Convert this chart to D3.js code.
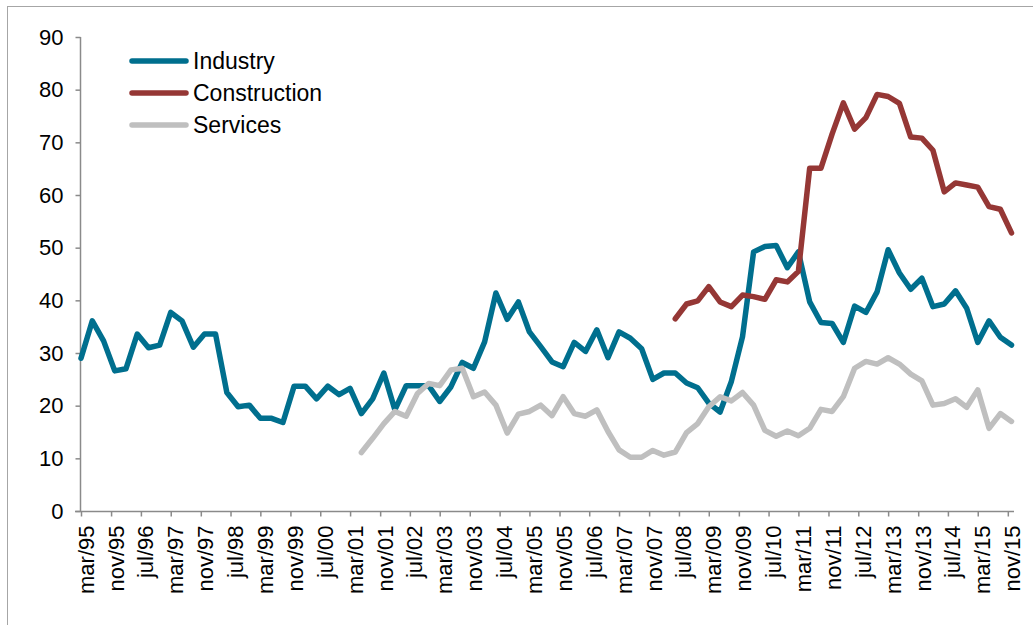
<!DOCTYPE html>
<html>
<head>
<meta charset="utf-8">
<script src="https://cdn.jsdelivr.net/npm/d3@7"></script>
<style>
  html, body { margin: 0; padding: 0; background: #fff; }
  svg { display: block; font-family: "Liberation Sans", Arial, sans-serif; }
</style>
</head>
<body>
<svg id="chart" width="1033" height="625"></svg>
<script>
// Quarterly series, mar/95 .. dec/15
const firstQuarter = "1995-03";
const lastQuarter = "2015-12";

const industry = [
  29.0, 36.1, 32.3, 26.6, 27.0, 33.6, 31.0, 31.5, 37.7, 36.1,
  31.1, 33.6, 33.6, 22.5, 19.8, 20.1, 17.6, 17.6, 16.8, 23.7,
  23.7, 21.3, 23.7, 22.1, 23.3, 18.5, 21.3, 26.2, 19.2, 23.8,
  23.8, 23.8, 20.8, 23.6, 28.2, 27.1, 32.1, 41.4, 36.4, 39.7,
  34.0, 31.2, 28.3, 27.4, 32.0, 30.3, 34.4, 29.1, 34.0, 32.8,
  30.8, 25.0, 26.2, 26.2, 24.3, 23.4, 20.5, 18.8, 24.6, 33.1,
  49.2, 50.2, 50.4, 46.2, 49.2, 39.7, 35.8, 35.6, 32.0, 38.9,
  37.7, 41.6, 49.6, 45.2, 42.1, 44.2, 38.8, 39.3, 41.8, 38.5,
  32.0, 36.1, 33.0, 31.5
];

// Construction starts in jun/08
const constructionStart = "2008-06";
const construction = [
  36.5, 39.3, 39.9, 42.6, 39.7, 38.8, 41.0, 40.7, 40.2, 43.9,
  43.5, 45.5, 65.1, 65.1, 71.6, 77.5, 72.5, 74.7, 79.1, 78.7,
  77.4, 71.0, 70.8, 68.5, 60.6, 62.3, 61.9, 61.5, 57.8, 57.3,
  52.8
];

// Services starts in jun/01
const servicesStart = "2001-06";
const services = [
  11.1, 13.8, 16.6, 18.9, 18.0, 22.3, 24.2, 23.8, 26.8, 27.1,
  21.7, 22.6, 20.1, 14.8, 18.4, 18.9, 20.1, 18.1, 21.7, 18.5,
  18.0, 19.2, 15.1, 11.6, 10.2, 10.2, 11.5, 10.6, 11.2, 14.9,
  16.6, 19.8, 21.7, 20.9, 22.5, 20.1, 15.3, 14.2, 15.2, 14.3,
  15.7, 19.3, 18.9, 21.7, 27.1, 28.4, 27.9, 29.1, 27.9, 26.0,
  24.7, 20.1, 20.4, 21.3, 19.7, 23.0, 15.7, 18.5, 17.0
];

const seriesNames = ["Industry", "Construction", "Services"];
const seriesColors = ["#006f8e", "#953735", "#bfbfbf"];
const yTicks = [0, 10, 20, 30, 40, 50, 60, 70, 80, 90];

const parseMonth = d3.utcParse("%Y-%m");
const fmtMonth = d3.utcFormat("%b/%y");

// attach a quarterly date to each value, starting from the given month
function quarterly(startStr, values) {
  const start = parseMonth(startStr);
  return values.map((v, i) => ({ date: d3.utcMonth.offset(start, 3 * i), value: v }));
}

const seriesData = [
  quarterly(firstQuarter, industry),
  quarterly(constructionStart, construction),
  quarterly(servicesStart, services)
];

const svg = d3.select("#chart");

// outer frame
svg.append("rect")
  .attr("x", 7.5).attr("y", 6.5)
  .attr("width", 1060).attr("height", 700)
  .attr("fill", "none").attr("stroke", "#a6a6a6").attr("stroke-width", 1);

const x = d3.scaleUtc()
  .domain([parseMonth(firstQuarter), parseMonth(lastQuarter)])
  .range([81, 1011.5]);

const y = d3.scaleLinear()
  .domain([0, 90])
  .range([511, 37]);

const axisColor = "#8a8a8a";

// y axis
const yAxis = svg.append("g")
  .attr("transform", "translate(80.5,0)")
  .call(d3.axisLeft(y).tickValues(yTicks).tickSize(5).tickPadding(12).tickFormat(d3.format("d")));
yAxis.select(".domain").attr("stroke", axisColor).attr("stroke-width", 1.5)
  .attr("d", `M0,${y(0)}V${y(90)}`);
yAxis.selectAll(".tick line").attr("stroke", axisColor).attr("stroke-width", 1.5);
yAxis.selectAll(".tick text")
  .attr("fill", "#000")
  .style("font-size", "22px")
  .style("font-family", "'Liberation Sans', Arial, sans-serif");

// x axis: a tick every 8 months
const xTicks = d3.utcMonth.range(parseMonth(firstQuarter), d3.utcMonth.offset(parseMonth(lastQuarter), 1), 8);
const xAxis = svg.append("g")
  .attr("transform", `translate(0,${y(0) + 0.5})`)
  .call(d3.axisBottom(x).tickValues(xTicks).tickSize(5)
    .tickFormat(d => fmtMonth(d).toLowerCase()));
xAxis.select(".domain").attr("stroke", axisColor).attr("stroke-width", 1.5)
  .attr("d", "M75,0H1014");
xAxis.selectAll(".tick line").attr("stroke", axisColor).attr("stroke-width", 1.5);
xAxis.selectAll(".tick text")
  .attr("fill", "#000")
  .style("font-size", "22px")
  .style("font-family", "'Liberation Sans', Arial, sans-serif")
  .style("text-anchor", "end")
  .attr("transform", "rotate(-90)")
  .attr("x", -14)
  .attr("y", 12)
  .attr("dy", null);

// series lines
const line = d3.line()
  .x(d => x(d.date))
  .y(d => y(d.value));

svg.append("g")
  .selectAll("path")
  .data(seriesData)
  .join("path")
  .attr("d", line)
  .attr("fill", "none")
  .attr("stroke", (d, i) => seriesColors[i])
  .attr("stroke-width", 5.5)
  .attr("stroke-linejoin", "round")
  .attr("stroke-linecap", "round");

// legend
const legend = svg.append("g").attr("transform", "translate(130,61)");
const items = legend.selectAll("g")
  .data(seriesNames)
  .join("g")
  .attr("transform", (d, i) => `translate(0,${i * 32})`);
items.append("line")
  .attr("x1", 2).attr("x2", 56)
  .attr("y1", 0).attr("y2", 0)
  .attr("stroke", (d, i) => seriesColors[i])
  .attr("stroke-width", 5.5)
  .attr("stroke-linecap", "round");
items.append("text")
  .attr("x", 63)
  .attr("y", 8)
  .style("font-size", "23px")
  .attr("fill", "#000")
  .text(d => d);
</script>
</body>
</html>
